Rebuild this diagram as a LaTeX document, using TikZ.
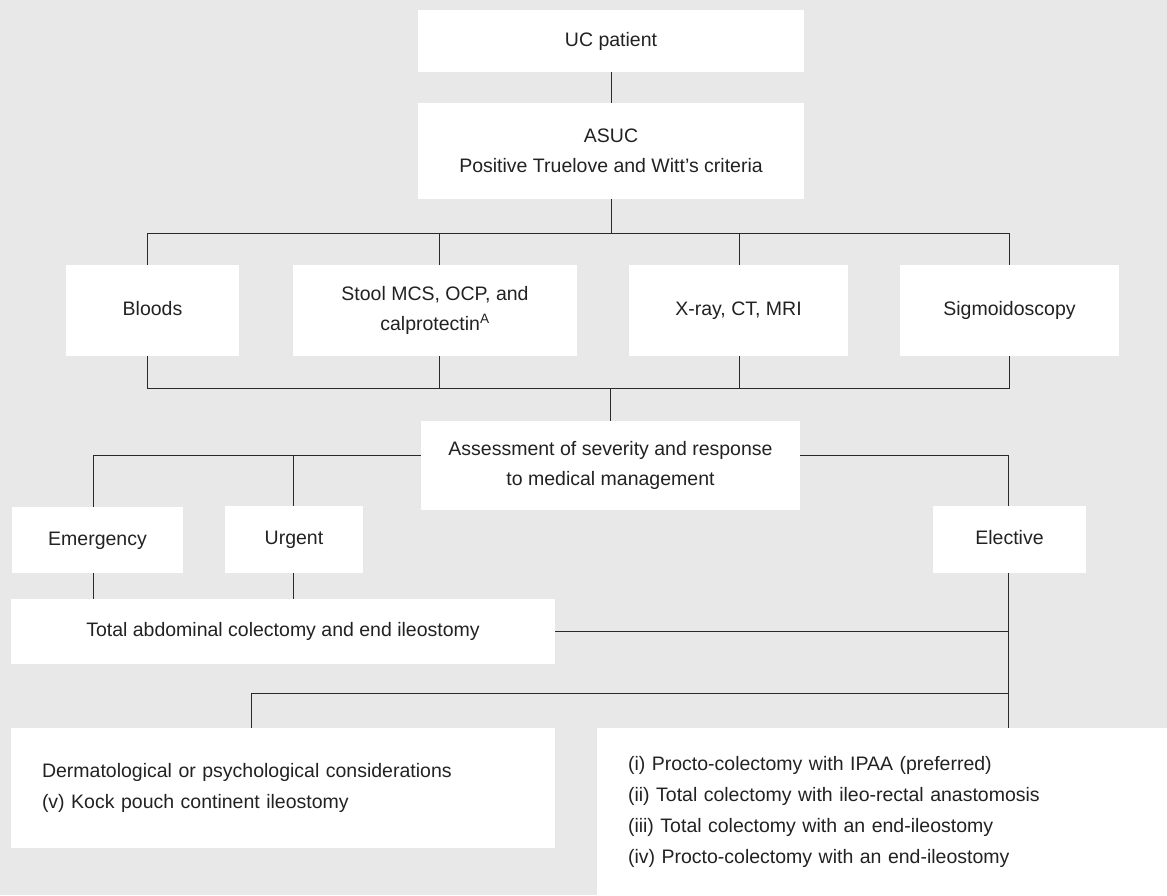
\documentclass[tikz,border=0pt]{standalone}
\usepackage{fontspec}
\setmainfont{Liberation Sans}
\definecolor{bg}{HTML}{E8E8E8}
\definecolor{txt}{HTML}{222222}
\definecolor{ln}{HTML}{2A2A2A}
\begin{document}
\begin{tikzpicture}[x=1pt,y=-1pt,
  box/.style={fill=white, draw=none, text=txt, font=\fontsize{19.5pt}{30pt}\selectfont, align=center, inner sep=0pt},
  single/.style={box, text height=14pt, text depth=4pt},
  listbox/.style={box, align=left, inner xsep=31pt, font=\fontsize{19.5pt}{31pt}\selectfont},
  conn/.style={draw=ln, line width=1pt},
]
\fill[bg] (0,0) rectangle (1167,895);
\useasboundingbox (0,0) rectangle (1167,895);

\node[single, minimum width=386pt, minimum height=62pt] (uc) at (611,41) {UC patient};
\node[box, minimum width=386pt, minimum height=96pt] (asuc) at (611,151) {ASUC\\Positive Truelove and Witt’s criteria};

\node[single, minimum width=173pt, minimum height=91pt] (bloods) at (152.5,310.5) {Bloods};
\node[box, minimum width=284pt, minimum height=91pt] (stool) at (435,310.5) {Stool MCS, OCP, and\\calprotectin\textsuperscript{A}};
\node[single, minimum width=219pt, minimum height=91pt] (xray) at (738.5,310.5) {X-ray, CT, MRI};
\node[single, minimum width=219pt, minimum height=91pt] (sigmoid) at (1009.5,310.5) {Sigmoidoscopy};

\node[box, minimum width=379pt, minimum height=89pt] (assess) at (610.5,465.5) {Assessment of severity and response\\to medical management};

\node[single, minimum width=171pt, minimum height=66pt] (emerg) at (97.5,540) {Emergency};
\node[single, minimum width=138pt, minimum height=67pt] (urgent) at (294,539.5) {Urgent};
\node[single, minimum width=153pt, minimum height=67pt] (elective) at (1009.5,539.5) {Elective};

\node[single, minimum width=544pt, minimum height=65pt] (total) at (283,631.5) {Total abdominal colectomy and end ileostomy};

\node[listbox, text width=482pt, minimum height=120pt] (lbox) at (283,788) {Dermatological or psychological considerations\\(v) Kock pouch continent ileostomy};
\node[listbox, text width=508pt, minimum height=167pt] (rbox) at (882,811.5) {(i) Procto-colectomy with IPAA (preferred)\\(ii) Total colectomy with ileo-rectal anastomosis\\(iii) Total colectomy with an end-ileostomy\\(iv) Procto-colectomy with an end-ileostomy};

% junction coordinates
\coordinate (t1) at (147,233);
\coordinate (t2) at (439,233);
\coordinate (t3) at (739,233);
\coordinate (t4) at (1009,233);
\coordinate (b1) at (147,388);
\coordinate (b4) at (1009,388);
\coordinate (e) at (93,455);
\coordinate (u) at (293,455);
\coordinate (el) at (1008,455);
\coordinate (lb) at (251,693);

\draw[conn] (uc) -- (asuc);
\draw[conn] (asuc.south) -- (asuc.south |- t1);
\draw[conn] (t1) -- (t4);
\draw[conn] (t1) -- (t1 |- bloods.north);
\draw[conn] (t2) -- (t2 |- stool.north);
\draw[conn] (t3) -- (t3 |- xray.north);
\draw[conn] (t4) -- (t4 |- sigmoid.north);

\draw[conn] (t1 |- bloods.south) -- (b1) -- (b4) -- (t4 |- sigmoid.south);
\draw[conn] (t2 |- stool.south) -- (t2 |- b1);
\draw[conn] (t3 |- xray.south) -- (t3 |- b1);
\draw[conn] (assess.north |- b1) -- (assess.north);

\draw[conn] (assess.west |- e) -- (e) -- (e |- emerg.north);
\draw[conn] (u) -- (u |- urgent.north);
\draw[conn] (assess.east |- el) -- (el) -- (el |- elective.north);
\draw[conn] (el |- elective.south) -- (el |- rbox.north);

\draw[conn] (e |- emerg.south) -- (e |- total.north);
\draw[conn] (u |- urgent.south) -- (u |- total.north);
\draw[conn] (total.east) -- (total.east -| el);

\draw[conn] (lb |- lbox.north) -- (lb) -- (lb -| el);
\end{tikzpicture}
\end{document}
